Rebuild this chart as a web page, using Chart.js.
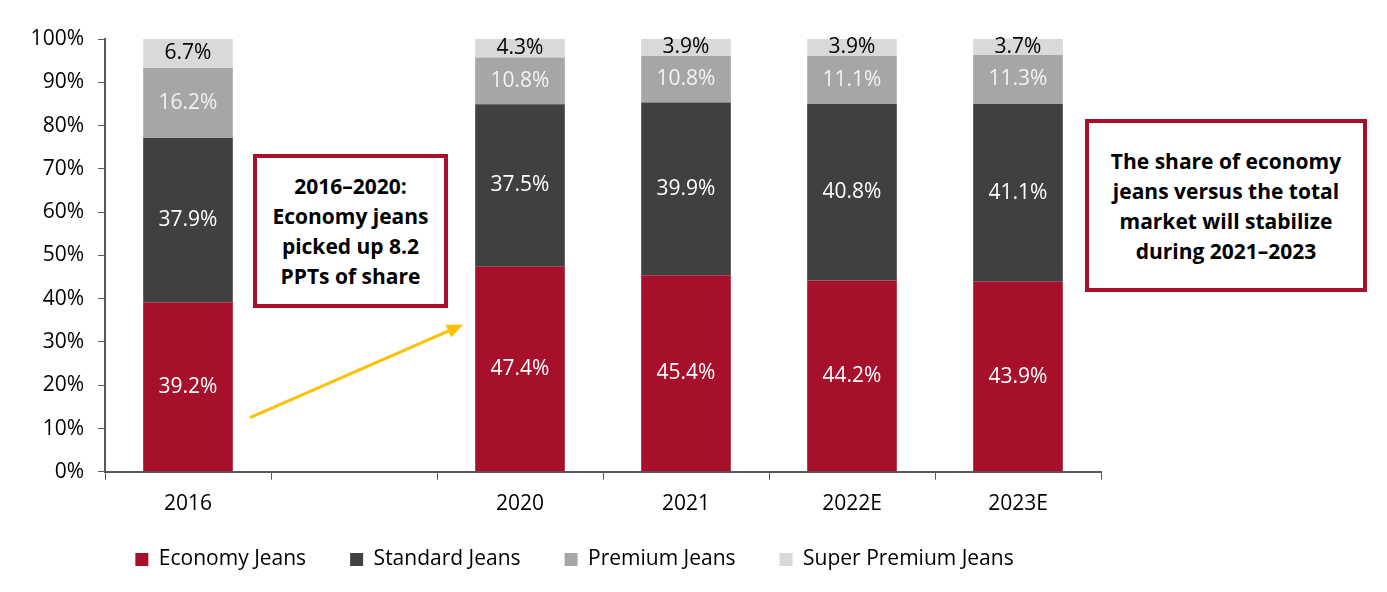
<!DOCTYPE html>
<html>
<head>
<meta charset="utf-8">
<script src="https://cdn.jsdelivr.net/npm/chart.js@4"></script>
<style>
  html, body { margin: 0; padding: 0; background: #fff; }
  #wrap { position: relative; width: 1387px; height: 592px; }
  .note {
    position: absolute; box-sizing: border-box;
    border: 4px solid #A6102B; background: #fff;
    font-family: "Open Sans", sans-serif; font-weight: 700;
    font-size: 21px; line-height: 30px; color: #000;
    text-align: center; display: flex; align-items: center; justify-content: center;
  }
</style>
</head>
<body>
<div id="wrap">
  <canvas id="chart" width="1387" height="592"></canvas>
  <div class="note" style="left:253px; top:154px; width:195px; height:154px;">2016–2020:<br>Economy jeans<br>picked up 8.2<br>PPTs of share</div>
  <div class="note" style="left:1085px; top:119px; width:282px; height:173px;">The share of economy<br>jeans versus the total<br>market will stabilize<br>during 2021–2023</div>
</div>
<script>
  const years = ["2016", "", "2020", "2021", "2022E", "2023E"];
  const economy = [39.2, null, 47.4, 45.4, 44.2, 43.9];
  const standard = [37.9, null, 37.5, 39.9, 40.8, 41.1];
  const premium = [16.2, null, 10.8, 10.8, 11.1, 11.3];
  const superPremium = [6.7, null, 4.3, 3.9, 3.9, 3.7];

  const font = "'Open Sans', sans-serif";
  const legendGap = 44;

  const labelPlugin = {
    id: "barLabels",
    afterDatasetsDraw(chart) {
      const ctx = chart.ctx;
      const colors = ["#ffffff", "#ffffff", "#f2f2f2", "#000000"];
      ctx.save();
      ctx.font = "21px " + font;
      ctx.textAlign = "center";
      ctx.textBaseline = "middle";
      chart.data.datasets.forEach((ds, i) => {
        chart.getDatasetMeta(i).data.forEach((bar, j) => {
          const v = ds.data[j];
          if (v === null) return;
          ctx.fillStyle = colors[i];
          const y = (bar.y + bar.base) / 2;
          ctx.fillText(v.toFixed(1) + "%", bar.x, y);
        });
      });
      ctx.restore();
    }
  };

  const arrowPlugin = {
    id: "arrow",
    afterDraw(chart) {
      const x = chart.scales.x, y = chart.scales.y;
      const x1 = x.getPixelForValue(0) + 62, y1 = y.getPixelForValue(12.5);
      const x2 = x.getPixelForValue(2) - 57, y2 = y.getPixelForValue(34);
      const ctx = chart.ctx;
      const a = Math.atan2(y2 - y1, x2 - x1);
      ctx.save();
      ctx.strokeStyle = "#FFC000";
      ctx.fillStyle = "#FFC000";
      ctx.lineWidth = 3;
      ctx.beginPath();
      ctx.moveTo(x1, y1);
      ctx.lineTo(x2 - 10 * Math.cos(a), y2 - 10 * Math.sin(a));
      ctx.stroke();
      ctx.beginPath();
      ctx.moveTo(x2, y2);
      ctx.lineTo(x2 - 16 * Math.cos(a) + 7 * Math.sin(a), y2 - 16 * Math.sin(a) - 7 * Math.cos(a));
      ctx.lineTo(x2 - 16 * Math.cos(a) - 7 * Math.sin(a), y2 - 16 * Math.sin(a) + 7 * Math.cos(a));
      ctx.closePath();
      ctx.fill();
      ctx.restore();
    }
  };

  // legend padding is both horizontal and vertical; keep the box short and place the row by hand
  const legendPlace = {
    id: "legendPlace",
    afterInit(chart) {
      const leg = chart.legend;
      const fit = leg.fit;
      leg.fit = function () { fit.call(this); this.height = 62; };
    },
    afterLayout(chart) {
      const leg = chart.legend;
      leg.top = 558 - legendGap - 9;
      leg.bottom = 592;
      leg.left += 24;
      leg.right += 24;
    }
  };

  new Chart(document.getElementById("chart"), {
    type: "bar",
    data: {
      labels: years,
      datasets: [
        { label: "Economy Jeans", data: economy, backgroundColor: "#A6102B" },
        { label: "Standard Jeans", data: standard, backgroundColor: "#404040" },
        { label: "Premium Jeans", data: premium, backgroundColor: "#A6A6A6" },
        { label: "Super Premium Jeans", data: superPremium, backgroundColor: "#D9D9D9" }
      ]
    },
    options: {
      responsive: false,
      animation: false,
      categoryPercentage: 1,
      barPercentage: 0.54,
      layout: { padding: { left: 0, right: 286, top: 39, bottom: 1 } },
      scales: {
        x: {
          stacked: true,
          grid: { drawOnChartArea: false, color: "#595959", tickLength: 8, tickColor: "#595959" },
          border: { color: "#595959", width: 2 },
          ticks: { color: "#000", font: { family: font, size: 21 }, padding: 12 }
        },
        y: {
          stacked: true,
          min: 0, max: 100,
          afterFit(s) { s.width = 105; },
          grid: { drawOnChartArea: false, tickLength: 7, tickColor: "#595959" },
          border: { color: "#595959", width: 2 },
          ticks: {
            stepSize: 10,
            color: "#000",
            font: { family: font, size: 21 },
            padding: 14,
            callback: v => v + "%"
          }
        }
      },
      plugins: {
        legend: {
          position: "bottom",
          labels: {
            color: "#000",
            font: { family: font, size: 21 },
            boxWidth: 13, boxHeight: 13,
            padding: legendGap
          }
        },
        tooltip: { enabled: false }
      }
    },
    plugins: [labelPlugin, arrowPlugin, legendPlace]
  });
</script>
</body>
</html>
